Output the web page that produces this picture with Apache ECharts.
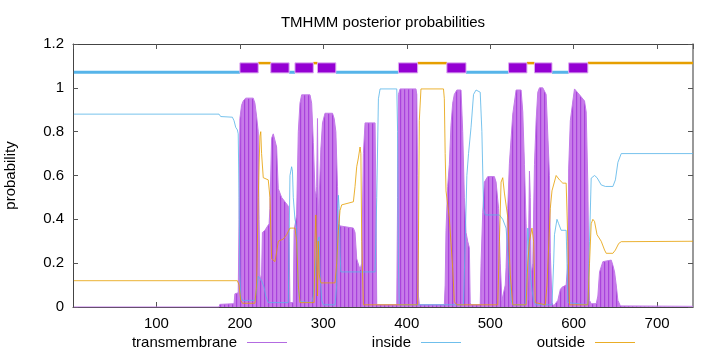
<!DOCTYPE html>
<html><head><meta charset="utf-8">
<script src="https://cdn.jsdelivr.net/npm/echarts@6/dist/echarts.min.js"></script>
<style>html,body{margin:0;padding:0;background:#fff}#c{width:720px;height:352px}</style>
</head><body><div id="c"></div>
<script>
// ---- data: [residue, posterior probability] ----
const transmembrane = [
[1,0],[175,0],[176,0.012],[193,0.015],[194,0.06],[198,0.065],[199,0.4],[200,0.86],[202,0.92],[204,0.94],[207,0.953],[216,0.953],[218,0.93],[220,0.87],[222,0.8],[223,0.4],[224,0.12],[226,0.15],[227,0.34],[230,0.35],[235,0.38],[236,0.45],[238,0.77],[240,0.79],[242,0.79],[244,0.73],[246,0.54],[250,0.5],[254,0.48],[258,0.46],[259,0.3],[260,0.02],[264,0.02],[265,0.35],[268,0.42],[270,0.8],[272,0.93],[274,0.968],[284,0.968],[286,0.93],[288,0.75],[290,0.53],[291,0.5],[292,0.55],[293,0.86],[294,0.4],[295,0.5],[297,0.72],[299,0.84],[302,0.884],[311,0.884],[313,0.86],[315,0.8],[317,0.55],[318,0.38],[320,0.37],[336,0.36],[338,0.34],[340,0.22],[344,0.17],[346,0.2],[348,0.7],[350,0.84],[362,0.84],[363,0.5],[364,0.01],[388,0.01],[389,0.5],[390,0.97],[392,0.995],[411,0.995],[412,0.97],[413,0.6],[414,0.05],[415,0.01],[445,0.01],[446,0.1],[447,0.35],[449,0.55],[451,0.65],[453,0.83],[455,0.93],[457,0.97],[460,0.99],[465,0.99],[467,0.8],[469,0.5],[471,0.34],[473,0.3],[475,0.27],[476,0.02],[477,0.01],[488,0.01],[489,0.2],[491,0.43],[493,0.57],[497,0.595],[505,0.595],[507,0.57],[510,0.45],[512,0.2],[514,0.03],[516,0.03],[518,0.1],[519,0.18],[521,0.45],[523,0.656],[527,0.88],[531,0.99],[537,0.99],[539,0.89],[541,0.65],[543,0.38],[545,0.03],[546,0.3],[547,0.62],[548,0.5],[549,0.15],[551,0.2],[553,0.65],[555,0.85],[557,0.98],[559,1.0],[563,1.0],[567,0.97],[569,0.785],[571,0.6],[572,0.25],[574,0.02],[576,0.005],[581,0.03],[584,0.08],[586,0.09],[591,0.1],[593,0.2],[594,0.63],[596,0.85],[599,0.94],[601,0.995],[603,0.995],[607,0.968],[613,0.94],[615,0.89],[617,0.557],[618,0.2],[619,0.03],[621,0.015],[627,0.015],[629,0.05],[631,0.16],[635,0.207],[637,0.214],[645,0.214],[647,0.19],[649,0.16],[651,0.1],[653,0.03],[656,0.005],[743,0.003]
];
const inside = [
[1,0.88],[175,0.88],[177,0.869],[191,0.866],[193,0.85],[195,0.82],[197,0.808],[198,0.79],[199,0.5],[200,0.15],[201,0.05],[203,0.03],[218,0.03],[220,0.08],[222,0.14],[224,0.146],[226,0.12],[229,0.09],[231,0.05],[234,0.02],[258,0.02],[259,0.3],[260,0.6],[262,0.64],[263,0.62],[264,0.5],[266,0.4],[268,0.36],[270,0.08],[272,0.025],[286,0.02],[288,0.05],[291,0.2],[293,0.3],[295,0.32],[296,0.15],[298,0.03],[300,0.01],[314,0.01],[316,0.1],[317,0.45],[318,0.51],[319,0.45],[320,0.25],[321,0.16],[322,0.155],[362,0.16],[364,0.5],[366,0.95],[368,0.995],[388,0.995],[389,0.8],[390,0.2],[391,0.01],[468,0.01],[470,0.3],[472,0.6],[474,0.7],[477,0.82],[480,0.97],[483,0.99],[488,0.98],[490,0.8],[492,0.45],[494,0.42],[511,0.42],[515,0.4],[519,0.36],[522,0.2],[525,0.03],[527,0.01],[542,0.01],[544,0.2],[545,0.36],[546,0.36],[548,0.15],[550,0.08],[552,0.03],[554,0.01],[574,0.01],[576,0.2],[577,0.33],[580,0.4],[582,0.38],[585,0.35],[591,0.35],[592,0.2],[593,0.02],[617,0.01],[619,0.3],[621,0.588],[625,0.6],[628,0.59],[633,0.557],[638,0.55],[647,0.55],[650,0.58],[653,0.66],[657,0.7],[743,0.7]
];
const outside = [
[1,0.12],[197,0.12],[199,0.1],[201,0.03],[203,0.017],[218,0.017],[220,0.1],[222,0.5],[224,0.78],[225,0.8],[226,0.7],[228,0.59],[234,0.58],[236,0.5],[238,0.22],[242,0.207],[244,0.25],[246,0.3],[252,0.31],[256,0.33],[260,0.36],[266,0.36],[268,0.3],[270,0.1],[272,0.02],[289,0.02],[290,0.3],[291,0.42],[292,0.25],[293,0.05],[294,0.3],[295,0.15],[297,0.11],[314,0.11],[316,0.2],[318,0.35],[320,0.44],[322,0.466],[336,0.48],[338,0.55],[340,0.64],[342,0.68],[344,0.73],[345,0.7],[346,0.3],[348,0.01],[413,0.01],[414,0.3],[415,0.85],[417,0.995],[444,0.995],[445,0.95],[446,0.7],[447,0.53],[451,0.405],[455,0.177],[457,0.024],[460,0.01],[509,0.01],[511,0.3],[513,0.57],[515,0.59],[517,0.52],[521,0.41],[524,0.15],[527,0.01],[543,0.01],[545,0.2],[547,0.3],[550,0.36],[552,0.3],[554,0.02],[566,0.01],[568,0.1],[572,0.45],[574,0.53],[579,0.6],[583,0.58],[587,0.565],[591,0.565],[593,0.3],[595,0.01],[617,0.01],[619,0.2],[621,0.38],[623,0.4],[625,0.39],[628,0.33],[633,0.3],[637,0.26],[639,0.245],[647,0.245],[650,0.26],[654,0.29],[657,0.298],[743,0.3]
];
// predicted topology segments
const topoKind  = ['inside','TM','outside','TM','inside','TM','outside','TM','inside','TM','outside','TM','inside','TM','outside','TM','inside','TM','outside'];
const topoStart = [1,200,222,237,259,266,288,293,315,390,413,448,471,522,544,553,574,594,617];
const topoEnd   = [200,222,237,259,266,288,293,315,390,413,448,471,522,544,553,574,594,617,743];
const seqLength = 743;
const titleText = 'TMHMM posterior probabilities';
const yLabel = 'probability';

// ---- styling ----
const FONT = "'Liberation Sans', Arial, sans-serif";
const C_TM = '#9400d3', C_IN = '#56b4e9', C_OUT = '#e69f00';
const pat = document.createElement('canvas');
pat.width = 4; pat.height = 4;
const pc = pat.getContext('2d');
pc.fillStyle = '#c77be9'; pc.fillRect(0,0,4,4);
pc.fillStyle = '#a943dc'; pc.fillRect(0,0,1.2,4);

const LANE = {inside:{y:1.071,h:3,color:C_IN}, outside:{y:1.1128,h:2.5,color:C_OUT}};
function renderTopo(params, api){
  const k = topoKind[params.dataIndex];
  const a = api.coord([api.value(0), 0]);
  const b = api.coord([api.value(1), 0]);
  if (k === 'TM'){
    const top = api.coord([0,1.114])[1], bot = api.coord([0,1.068])[1];
    return {type:'rect', z2:10, shape:{x:a[0], y:top, width:b[0]-a[0], height:bot-top},
      style:{fill:C_TM, stroke:'#dcaaf0', lineWidth:1}};
  }
  const L = LANE[k];
  const yc = api.coord([0, L.y])[1];
  return {type:'rect', z2:1, shape:{x:a[0], y:yc-L.h/2, width:b[0]-a[0], height:L.h}, style:{fill:L.color}};
}

const chart = echarts.init(document.getElementById('c'), null, {renderer:'canvas'});
const tickStyle = {show:true, inside:true, length:5, lineStyle:{color:'#555', width:1}};
function legendFor(name, color, right){
  return {data:[{name:name, itemStyle:{color:color, opacity:0.85}}], right:right, top:335, align:'right', icon:'rect',
    itemWidth:40, itemHeight:1, padding:0, selectedMode:false,
    textStyle:{fontFamily:FONT, fontSize:15, color:'#000', padding:[0,5,0,0]}};
}
chart.setOption({
  animation:false,
  backgroundColor:'#fff',
  textStyle:{fontFamily:FONT},
  title:{text:titleText, left:383, textAlign:'center', top:15, padding:0,
    textStyle:{fontFamily:FONT, fontSize:15, fontWeight:'normal', color:'#000'}},
  grid:{left:73, right:27, top:44, bottom:45, containLabel:false, outerBoundsMode:'none'},
  legend:[legendFor('transmembrane','#a651dc',433), legendFor('inside',C_IN,259), legendFor('outside',C_OUT,85)],
  xAxis:[
    {type:'value', min:0, max:seqLength, interval:100, position:'bottom',
     axisLine:{show:true, onZero:false, lineStyle:{color:'#444', width:1}},
     axisTick:tickStyle, splitLine:{show:false},
     axisLabel:{show:true, showMinLabel:false, showMaxLabel:false, margin:9, fontSize:15, color:'#000', fontFamily:FONT}},
    {type:'value', min:0, max:seqLength, interval:100, position:'top',
     axisLine:{show:true, onZero:false, lineStyle:{color:'#444', width:1}},
     axisTick:tickStyle, splitLine:{show:false}, axisLabel:{show:false}}
  ],
  yAxis:[
    {type:'value', min:0, max:1.2, interval:0.2, position:'left',
     name:yLabel, nameLocation:'middle', nameGap:55,
     nameTextStyle:{fontFamily:FONT, fontSize:15, color:'#000'},
     axisLine:{show:true, onZero:false, lineStyle:{color:'#444', width:1}},
     axisTick:tickStyle, splitLine:{show:false},
     axisLabel:{margin:9, fontSize:15, color:'#000', fontFamily:FONT}},
    {type:'value', min:0, max:1.2, interval:0.2, position:'right',
     axisLine:{show:true, onZero:false, lineStyle:{color:'#777', width:1.5}},
     axisTick:tickStyle, splitLine:{show:false}, axisLabel:{show:false}}
  ],
  series:[
    {name:'transmembrane', type:'line', data:transmembrane, showSymbol:false, symbol:'none',
     color:C_TM, lineStyle:{color:'#c27ae8', width:1}, areaStyle:{color:{image:pat, repeat:'repeat'}, opacity:1},
     z:1},
    {name:'inside', type:'line', data:inside, showSymbol:false, symbol:'none', color:C_IN,
     lineStyle:{color:C_IN, width:1, opacity:0.8}, z:2},
    {name:'outside', type:'line', data:outside, showSymbol:false, symbol:'none', color:C_OUT,
     lineStyle:{color:C_OUT, width:1, opacity:0.8}, z:3},
    {name:'topology', type:'custom', renderItem:renderTopo, z:4,
     data:topoStart.map((s,i)=>[s, topoEnd[i], 1.09]), encode:{x:[0,1], y:2}}
  ]
});
</script>
</body></html>
